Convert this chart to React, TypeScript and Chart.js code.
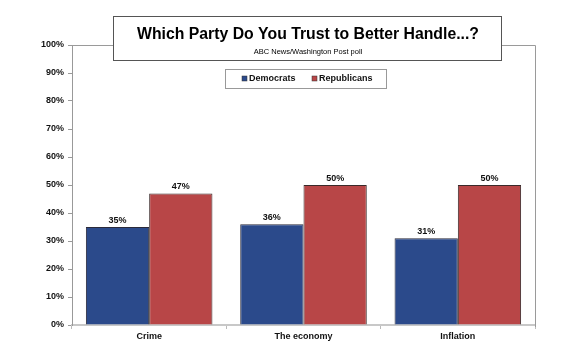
import React, { useEffect, useRef } from "react";
import { Chart, registerables } from "chart.js";

Chart.register(...registerables);

const categories = ["Crime", "The economy", "Inflation"];
const democrats = [35, 36, 31];
const republicans = [47, 50, 50];
const yTicks = [0, 10, 20, 30, 40, 50, 60, 70, 80, 90, 100];
const titleText = "Which Party Do You Trust to Better Handle...?";
const subtitleText = "ABC News/Washington Post poll";

const FONT = "'Liberation Sans', Arial, Helvetica, sans-serif";
const BLUE = "#2b4a8b";
const RED = "#b84647";

const overlayPlugin = {
  id: "overlay",
  afterDatasetsDraw(chart: any) {
    const ctx = chart.ctx;
    const area = chart.chartArea;
    ctx.save();
    // frame top and right
    ctx.strokeStyle = "#9a9a9a";
    ctx.lineWidth = 1;
    ctx.beginPath();
    ctx.moveTo(area.left, area.top + 0.5);
    ctx.lineTo(area.right + 0.5, area.top + 0.5);
    ctx.lineTo(area.right + 0.5, area.bottom + 2);
    ctx.stroke();

    // data labels
    ctx.fillStyle = "#111";
    ctx.font = `bold 9px ${FONT}`;
    ctx.textAlign = "center";
    ctx.textBaseline = "alphabetic";
    chart.data.datasets.forEach((ds: any, i: number) => {
      const meta = chart.getDatasetMeta(i);
      meta.data.forEach((bar: any, j: number) => {
        ctx.fillText(ds.data[j] + "%", bar.x, bar.y - 4);
      });
    });

    // title box
    const tx = 113, ty = 16, tw = 388, th = 44;
    ctx.fillStyle = "#fff";
    ctx.fillRect(tx, ty, tw, th);
    ctx.strokeStyle = "#555";
    ctx.lineWidth = 1;
    ctx.strokeRect(tx + 0.5, ty + 0.5, tw, th);
    ctx.fillStyle = "#000";
    ctx.font = `bold 15.8px ${FONT}`;
    ctx.textBaseline = "middle";
    ctx.fillText(titleText, tx + tw / 2 + 1, 35);
    ctx.font = `7.5px ${FONT}`;
    ctx.fillText(subtitleText, tx + tw / 2 + 1, 52);

    // legend box
    const lx = 225, ly = 69, lw = 161, lh = 19;
    ctx.fillStyle = "#fff";
    ctx.fillRect(lx, ly, lw, lh);
    ctx.strokeStyle = "#999";
    ctx.strokeRect(lx + 0.5, ly + 0.5, lw, lh);
    ctx.font = `bold 9px ${FONT}`;
    ctx.textAlign = "left";
    const items = [
      { x: 242, label: chart.data.datasets[0].label, color: BLUE },
      { x: 312, label: chart.data.datasets[1].label, color: RED },
    ];
    items.forEach((it) => {
      ctx.fillStyle = it.color;
      ctx.fillRect(it.x, ly + 7, 5, 5);
      ctx.strokeStyle = "#333";
      ctx.lineWidth = 0.5;
      ctx.strokeRect(it.x, ly + 7, 5, 5);
      ctx.fillStyle = "#111";
      ctx.fillText(it.label, it.x + 7, ly + 10);
    });
    ctx.restore();
  },
};

export default function App() {
  const ref = useRef<HTMLCanvasElement>(null);
  useEffect(() => {
    if (!ref.current) return;
    const chart = new Chart(ref.current, {
      type: "bar",
      data: {
        labels: categories,
        datasets: [
          {
            label: "Democrats",
            data: democrats,
            backgroundColor: BLUE,
            borderColor: "#2a2a3a",
            borderWidth: 1,
            borderSkipped: "bottom",
          },
          {
            label: "Republicans",
            data: republicans,
            backgroundColor: RED,
            borderColor: "#3a2a2a",
            borderWidth: 1,
            borderSkipped: "bottom",
          },
        ],
      },
      options: {
        responsive: false,
        animation: false,
        devicePixelRatio: 1,
        layout: { padding: { left: 0, top: 45, right: 48, bottom: 0 } },
        plugins: {
          legend: { display: false },
          tooltip: { enabled: false },
          title: { display: false },
        },
        datasets: { bar: { categoryPercentage: 0.82, barPercentage: 1 } },
        scales: {
          x: {
            afterFit(scale: any) {
              scale.height = 23;
            },
            grid: {
              offset: true,
              drawOnChartArea: false,
              drawTicks: true,
              tickLength: 4,
              color: "#bbb",
            },
            border: { color: "#c8c8c8", width: 2 },
            ticks: {
              color: "#111",
              font: { family: FONT, size: 9, weight: "bold" },
              padding: 2,
            },
          },
          y: {
            min: 0,
            max: 100,
            afterFit(scale: any) {
              scale.width = 72;
            },
            afterBuildTicks(scale: any) {
              scale.ticks = yTicks.map((v) => ({ value: v }));
            },
            grid: {
              drawOnChartArea: false,
              drawTicks: true,
              tickLength: 4,
              color: "#999",
            },
            border: { color: "#999", width: 1 },
            ticks: {
              color: "#111",
              font: { family: FONT, size: 9, weight: "bold" },
              padding: 4,
              callback: (v: any) => v + "%",
            },
          },
        },
      },
      plugins: [overlayPlugin],
    });
    return () => chart.destroy();
  }, []);
  return (
    <div style={{ position: "fixed", left: 0, top: 0, width: 583, height: 348, background: "#fff" }}>
      <canvas ref={ref} width={583} height={348} style={{ width: 583, height: 348 }} />
    </div>
  );
}
